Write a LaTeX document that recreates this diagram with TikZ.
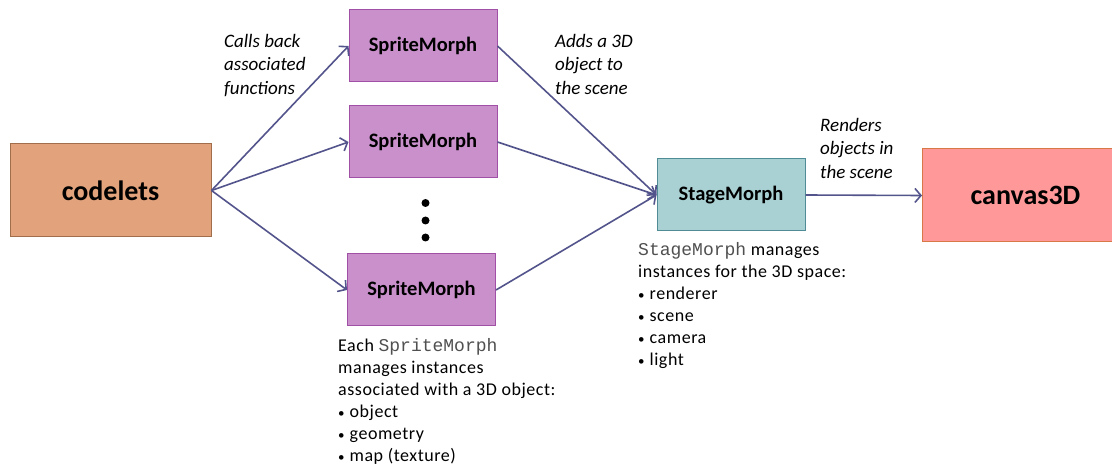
\documentclass[tikz,border=0pt]{standalone}
\usepackage{fontspec}
\setmainfont{Carlito}
\setmonofont{Liberation Mono}
\usetikzlibrary{arrows.meta}
\definecolor{arrowc}{RGB}{84,84,140}
\definecolor{codefill}{RGB}{226,162,124}
\definecolor{codedraw}{RGB}{160,110,75}
\definecolor{spritefill}{RGB}{201,144,203}
\definecolor{spritedraw}{RGB}{160,80,165}
\definecolor{stagefill}{RGB}{169,209,212}
\definecolor{stagedraw}{RGB}{80,140,150}
\definecolor{canvasfill}{RGB}{255,153,153}
\definecolor{canvasdraw}{RGB}{215,120,70}
\definecolor{monoc}{RGB}{80,80,80}
\newcommand{\mybul}{{\fontsize{13}{13}\selectfont\textbullet}\hspace{5pt}}
\newcommand{\mymono}[1]{\textcolor{monoc}{\texttt{#1}}}
\tikzset{
  box/.style={rectangle, draw, line width=1pt, inner sep=0pt},
  spritebox/.style={box, fill=spritefill, draw=spritedraw, minimum width=148pt, minimum height=72pt, font=\fontsize{20.5}{24}\selectfont\bfseries},
  bigbox/.style={box, minimum width=201pt, minimum height=93pt, font=\fontsize{28}{32}\selectfont\bfseries},
  conn/.style={draw=arrowc, line width=1.6pt, -{Straight Barb[length=6pt,width=14pt,line width=1.6pt]}},
  note/.style={align=left, inner sep=0pt, anchor=north west, font=\fontsize{19}{23.5}\selectfont\itshape},
  desc/.style={align=left, inner sep=0pt, anchor=north west, font=\fontsize{18}{22}\selectfont\addfontfeature{LetterSpace=3}},
  vdot/.style={circle, fill=black, inner sep=0pt, minimum size=8pt}
}
\begin{document}
\begin{tikzpicture}[x=1pt,y=-1pt]
\useasboundingbox (0,0) rectangle (1112,465);
\clip (0,0) rectangle (1112,465);
\node[bigbox, fill=codefill, draw=codedraw] (codelets) at (110.5,190.5) {codelets};
\node[spritebox] (sm1) at (423,46) {SpriteMorph};
\node[spritebox] (sm2) at (423,142) {SpriteMorph};
\node[spritebox] (sm3) at (421.5,290) {SpriteMorph};
\node[box, fill=stagefill, draw=stagedraw, minimum width=148pt, minimum height=72pt, font=\fontsize{20.5}{24}\selectfont\bfseries] (stage) at (731,195) {StageMorph};
\node[bigbox, fill=canvasfill, draw=canvasdraw, minimum width=206pt] (canvas) at (1025.5,195.5) {canvas3D};
\node[vdot] (d1) at (425.5,203) {};
\node[vdot] (d2) at (425.5,220.5) {};
\node[vdot] (d3) at (425.5,237.5) {};
\draw[conn] (codelets.east) -- (sm1.west);
\draw[conn] (codelets.east) -- (sm2.west);
\draw[conn] (codelets.east) -- (sm3.west);
\draw[conn] (sm1.east) -- (stage.west);
\draw[conn] (sm2.east) -- (stage.west);
\draw[conn] (sm3.east) -- (stage.west);
\draw[conn] (stage.east) -- (canvas.west);
\node[note] (n1) at (224,34) {Calls back\\associated\\functions};
\node[note] (n2) at (555,34) {Adds a 3D\\object to\\the scene};
\node[note] (n3) at (820,118) {Renders\\objects in\\the scene};
\node[desc] (t1) at (338,338) {Each \mymono{SpriteMorph}\\manages instances\\associated with a 3D object:\\\mybul object\\\mybul geometry\\\mybul map (texture)};
\node[desc] (t2) at (638,242) {\mymono{StageMorph} manages\\instances for the 3D space:\\\mybul renderer\\\mybul scene\\\mybul camera\\\mybul light};
\end{tikzpicture}
\end{document}
